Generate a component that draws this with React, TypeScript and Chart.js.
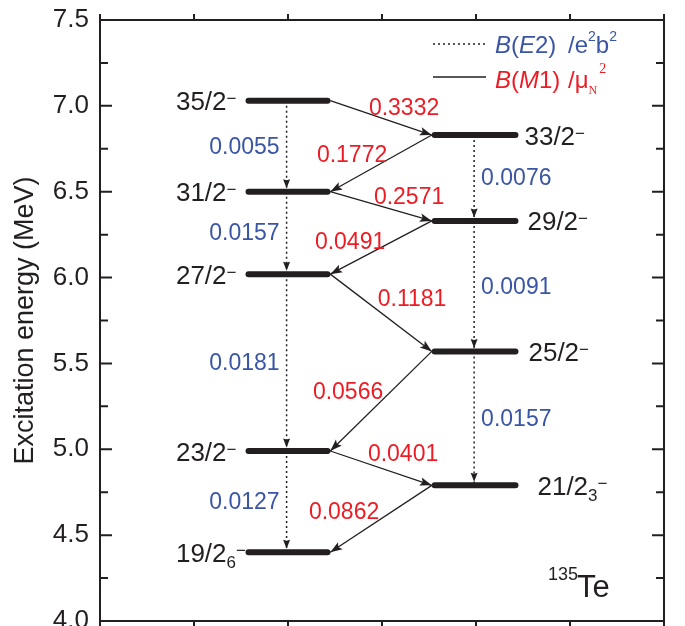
import React, { useEffect, useRef } from 'react';
import { Chart, registerables } from 'chart.js';

Chart.register(...registerables);

// ---------------- data ----------------
const levelSpins = ['35/2', '33/2', '31/2', '29/2', '27/2', '25/2', '23/2', '21/2', '19/2'];
const levelIndexSub = ['', '', '', '', '', '', '', '3', '6'];
const levelEnergies = [7.03, 6.83, 6.5, 6.33, 6.02, 5.57, 4.99, 4.79, 4.4];
const levelBand = [0, 1, 0, 1, 0, 1, 0, 1, 0];

const m1Initial = [0, 1, 2, 3, 4, 5, 6, 7];
const m1Final = [1, 2, 3, 4, 5, 6, 7, 8];
const m1Values = ['0.3332', '0.1772', '0.2571', '0.0491', '0.1181', '0.0566', '0.0401', '0.0862'];

const e2Initial = [0, 2, 4, 6, 1, 3, 5];
const e2Final = [2, 4, 6, 8, 3, 5, 7];
const e2Values = ['0.0055', '0.0157', '0.0181', '0.0127', '0.0076', '0.0091', '0.0157'];

const yTickValues = [4.0, 4.5, 5.0, 5.5, 6.0, 6.5, 7.0, 7.5];
const xTickValues = [0, 1, 2, 3, 4, 5, 6];

const yTitle = 'Excitation energy (MeV)';
const nucleusMass = '135';
const nucleusSymbol = 'Te';

// ---------------- layout / style ----------------
const BAND_START = [1.58, 3.56];
const BAND_END = [2.42, 4.42];
const E2_X = [1.985, 3.98];
const M1_X = [2.45, 3.53];
const RIGHT_LABEL_GAP = [0, 6, 0, 9, 0, 10, 0, 19, 0];
const M1_NUDGE = [
  [23, -9], [-29, -8], [28, -9], [-31, -5], [31, -13], [-33, -9], [22, -14], [-37, -6],
];

const INK = '#231f20';
const BLUE = '#3a55a5';
const RED = '#ed1c24';
const FONT = "'Liberation Sans', Arial, Helvetica, sans-serif";
const SERIF = "'Liberation Serif', 'Times New Roman', serif";

type Run = { t: string; size: number; color: string; dy?: number; dx?: number; italic?: boolean; serif?: boolean };

function setFont(ctx: CanvasRenderingContext2D, r: Run) {
  ctx.font = `${r.italic ? 'italic ' : ''}${r.size}px ${r.serif ? SERIF : FONT}`;
}

function runsWidth(ctx: CanvasRenderingContext2D, runs: Run[]) {
  let w = 0;
  for (const r of runs) {
    setFont(ctx, r);
    w += (r.dx || 0) + ctx.measureText(r.t).width;
  }
  return w;
}

function drawRuns(ctx: CanvasRenderingContext2D, x: number, y: number, runs: Run[]) {
  let cx = x;
  ctx.textAlign = 'left';
  ctx.textBaseline = 'alphabetic';
  for (const r of runs) {
    cx += r.dx || 0;
    setFont(ctx, r);
    ctx.fillStyle = r.color;
    ctx.fillText(r.t, cx, y + (r.dy || 0));
    cx += ctx.measureText(r.t).width;
  }
  return cx;
}

function arrowHead(
  ctx: CanvasRenderingContext2D, x1: number, y1: number, x2: number, y2: number,
  len: number, half: number, notch: number, color: string,
) {
  const a = Math.atan2(y2 - y1, x2 - x1);
  ctx.save();
  ctx.translate(x2, y2);
  ctx.rotate(a);
  ctx.beginPath();
  ctx.moveTo(0, 0);
  ctx.lineTo(-len, -half);
  ctx.lineTo(-len + notch, 0);
  ctx.lineTo(-len, half);
  ctx.closePath();
  ctx.fillStyle = color;
  ctx.fill();
  ctx.restore();
}

const framePlugin = {
  id: 'frame',
  afterDraw(chart: any) {
    const ctx: CanvasRenderingContext2D = chart.ctx;
    const { left, right, top, bottom } = chart.chartArea;
    const ys = chart.scales.y;
    const xs = chart.scales.x;
    ctx.save();
    ctx.strokeStyle = INK;
    ctx.lineWidth = 2;
    ctx.strokeRect(left, top, right - left, bottom - top);
    const minors: number[] = [];
    for (let i = 0; i < yTickValues.length - 1; i++) minors.push((yTickValues[i] + yTickValues[i + 1]) / 2);
    ctx.beginPath();
    for (const v of yTickValues) {
      const y = ys.getPixelForValue(v);
      ctx.moveTo(left, y); ctx.lineTo(left + 12, y);
      ctx.moveTo(right, y); ctx.lineTo(right - 12, y);
    }
    for (const v of minors) {
      const y = ys.getPixelForValue(v);
      ctx.moveTo(left, y); ctx.lineTo(left + 8, y);
      ctx.moveTo(right, y); ctx.lineTo(right - 8, y);
    }
    for (const v of xTickValues) {
      const x = xs.getPixelForValue(v);
      ctx.moveTo(x, bottom); ctx.lineTo(x, bottom + 7);
      ctx.moveTo(x, top); ctx.lineTo(x, top - 6);
    }
    ctx.stroke();
    ctx.restore();
  },
};

const annotatePlugin = {
  id: 'annotate',
  afterDatasetsDraw(chart: any) {
    const ctx: CanvasRenderingContext2D = chart.ctx;
    const xs = chart.scales.x;
    const ys = chart.scales.y;
    ctx.save();
    m1Initial.forEach((i, k) => {
      const f = m1Final[k];
      const x1 = xs.getPixelForValue(M1_X[levelBand[i]]);
      const y1 = ys.getPixelForValue(levelEnergies[i]);
      const x2 = xs.getPixelForValue(M1_X[levelBand[f]]);
      const y2 = ys.getPixelForValue(levelEnergies[f]);
      arrowHead(ctx, x1, y1, x2, y2, 12, 4.2, 2.5, INK);
    });
    e2Initial.forEach((i, k) => {
      const f = e2Final[k];
      const x = xs.getPixelForValue(E2_X[levelBand[f]]);
      const y1 = ys.getPixelForValue(levelEnergies[i]);
      const y2 = ys.getPixelForValue(levelEnergies[f]) - 3.5;
      arrowHead(ctx, x, y1, x, y2, 9, 3.5, 1, INK);
    });
    ctx.restore();
  },
  afterDraw(chart: any) {
    const ctx: CanvasRenderingContext2D = chart.ctx;
    const xs = chart.scales.x;
    const ys = chart.scales.y;
    ctx.save();

    levelSpins.forEach((spin, i) => {
      const b = levelBand[i];
      const y = ys.getPixelForValue(levelEnergies[i]);
      const main: Run = { t: spin, size: 26, color: INK };
      const suffix: Run[] = [];
      if (levelIndexSub[i]) suffix.push({ t: levelIndexSub[i], size: 17, color: INK, dy: 6 });
      suffix.push({ t: '\u2212', size: 17, color: INK, dy: -6 });
      const base = y + 9.5;
      if (b === 0) {
        const startPx = xs.getPixelForValue(BAND_START[0]) - 3;
        const mainW = runsWidth(ctx, [main]);
        drawRuns(ctx, startPx - 19 - mainW, base, [main, ...suffix]);
      } else {
        const endPx = xs.getPixelForValue(BAND_END[1]) + 3;
        drawRuns(ctx, endPx + RIGHT_LABEL_GAP[i], base, [main, ...suffix]);
      }
    });

    ctx.font = `23px ${FONT}`;
    ctx.fillStyle = RED;
    ctx.textAlign = 'center';
    ctx.textBaseline = 'middle';
    m1Values.forEach((v, k) => {
      const i = m1Initial[k];
      const f = m1Final[k];
      const x1 = xs.getPixelForValue(M1_X[levelBand[i]]);
      const y1 = ys.getPixelForValue(levelEnergies[i]);
      const x2 = xs.getPixelForValue(M1_X[levelBand[f]]);
      const y2 = ys.getPixelForValue(levelEnergies[f]);
      ctx.fillText(v, (x1 + x2) / 2 + M1_NUDGE[k][0], (y1 + y2) / 2 + M1_NUDGE[k][1]);
    });

    ctx.fillStyle = BLUE;
    e2Values.forEach((v, k) => {
      const i = e2Initial[k];
      const f = e2Final[k];
      const b = levelBand[i];
      const x = xs.getPixelForValue(E2_X[b]);
      const y = (ys.getPixelForValue(levelEnergies[i]) + ys.getPixelForValue(levelEnergies[f])) / 2 + 1;
      if (b === 0) {
        ctx.textAlign = 'right';
        ctx.fillText(v, x - 7, y);
      } else {
        ctx.textAlign = 'left';
        ctx.fillText(v, x + 7, y);
      }
    });

    // legend
    ctx.strokeStyle = INK;
    ctx.lineWidth = 1.5;
    ctx.setLineDash([2, 3]);
    ctx.beginPath(); ctx.moveTo(433, 44); ctx.lineTo(486, 44); ctx.stroke();
    ctx.setLineDash([]);
    ctx.lineWidth = 1.3;
    ctx.beginPath(); ctx.moveTo(433, 77); ctx.lineTo(486, 77); ctx.stroke();

    drawRuns(ctx, 495, 53, [
      { t: 'B', size: 24, color: BLUE, italic: true },
      { t: '(', size: 24, color: BLUE },
      { t: 'E', size: 24, color: BLUE, italic: true },
      { t: '2)', size: 24, color: BLUE },
    ]);
    drawRuns(ctx, 568, 53, [
      { t: '/e', size: 24, color: BLUE },
      { t: '2', size: 14, color: BLUE, dy: -12 },
      { t: 'b', size: 24, color: BLUE },
      { t: '2', size: 14, color: BLUE, dy: -12 },
    ]);
    drawRuns(ctx, 495, 88, [
      { t: 'B', size: 24, color: RED, italic: true },
      { t: '(', size: 24, color: RED },
      { t: 'M', size: 24, color: RED, italic: true },
      { t: '1)', size: 24, color: RED },
    ]);
    drawRuns(ctx, 568, 88, [
      { t: '/\u03bc', size: 24, color: RED },
      { t: 'N', size: 12, color: RED, dy: 6, serif: true },
      { t: '2', size: 14, color: RED, dy: -15, dx: 2, serif: true },
    ]);

    drawRuns(ctx, 548, 580, [{ t: nucleusMass, size: 18, color: INK }]);
    drawRuns(ctx, 577, 597, [{ t: nucleusSymbol, size: 31, color: INK }]);

    ctx.restore();
  },
};

export default function App() {
  const ref = useRef<HTMLCanvasElement>(null);

  useEffect(() => {
    const canvas = ref.current;
    if (!canvas) return;

    const levelSets = levelEnergies.map((e, i) => ({
      data: [
        { x: BAND_START[levelBand[i]], y: e },
        { x: BAND_END[levelBand[i]], y: e },
      ],
      showLine: true,
      borderColor: INK,
      backgroundColor: INK,
      borderWidth: 6,
      borderCapStyle: 'round',
      pointRadius: 0,
      fill: false,
    }));

    const m1Sets = m1Initial.map((i, k) => {
      const f = m1Final[k];
      return {
        data: [
          { x: M1_X[levelBand[i]], y: levelEnergies[i] },
          { x: M1_X[levelBand[f]], y: levelEnergies[f] },
        ],
        showLine: true,
        borderColor: INK,
        borderWidth: 1.3,
        pointRadius: 0,
        fill: false,
      };
    });

    const e2Sets = e2Initial.map((i, k) => {
      const f = e2Final[k];
      const b = levelBand[i];
      return {
        data: [
          { x: E2_X[b], y: levelEnergies[i] },
          { x: E2_X[b], y: levelEnergies[f] },
        ],
        showLine: true,
        borderColor: INK,
        borderWidth: 1.5,
        borderDash: [2, 3],
        pointRadius: 0,
        fill: false,
      };
    });

    const chart = new Chart(canvas, {
      type: 'scatter',
      data: { datasets: [...levelSets, ...m1Sets, ...e2Sets] as any },
      options: {
        responsive: false,
        animation: false,
        devicePixelRatio: 1,
        events: [],
        layout: { padding: { top: 20, right: 21, bottom: 5, left: 0 } },
        plugins: {
          legend: { display: false },
          tooltip: { enabled: false },
          title: { display: false },
        },
        scales: {
          x: { type: 'linear', min: 0, max: 6, display: false },
          y: {
            type: 'linear',
            min: 4,
            max: 7.5,
            position: 'left',
            grid: { display: false, drawTicks: false },
            border: { display: false },
            ticks: {
              padding: 11,
              color: INK,
              font: { family: FONT, size: 26 },
              callback: (v: any) => Number(v).toFixed(1),
            },
            title: {
              display: true,
              text: yTitle,
              color: INK,
              font: { family: FONT, size: 27 },
              padding: { top: 9, bottom: 0 },
            },
            afterBuildTicks: (s: any) => {
              s.ticks = yTickValues.map((v) => ({ value: v }));
            },
            afterFit: (s: any) => {
              s.width = 100;
              s.paddingTop = 0;
              s.paddingBottom = 0;
            },
          },
        },
      } as any,
      plugins: [framePlugin, annotatePlugin],
    });

    return () => chart.destroy();
  }, []);

  return (
    <div style={{ position: 'absolute', left: 0, top: 0, width: 685, height: 626, overflow: 'hidden', background: '#fff' }}>
      <canvas ref={ref} width={685} height={626} style={{ display: 'block', width: 685, height: 626 }} />
    </div>
  );
}
